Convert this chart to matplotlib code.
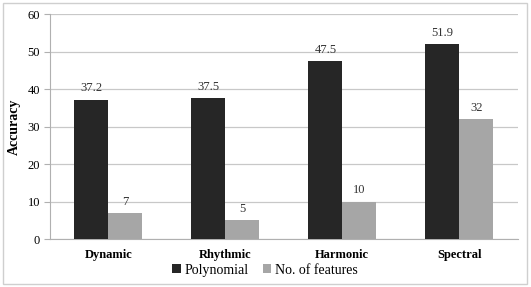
import matplotlib
matplotlib.use("Agg")
import matplotlib.pyplot as plt
import numpy as np
from matplotlib.patches import Rectangle

categories = ["Dynamic", "Rhythmic", "Harmonic", "Spectral"]
polynomial = [37.2, 37.5, 47.5, 51.9]
n_features = [7, 5, 10, 32]
labels_poly = ["37.2", "37.5", "47.5", "51.9"]
labels_feat = ["7", "5", "10", "32"]

plt.rcParams["font.family"] = ["Liberation Serif", "DejaVu Serif"]

fig = plt.figure(figsize=(5.31, 2.87), dpi=100)
ax = fig.add_axes([0.094, 0.167, 0.881, 0.784])

x = np.arange(len(categories))
w = 0.29
dark = "#262626"
light = "#a6a6a6"
b1 = ax.bar(x - w / 2, polynomial, w, color=dark, label="Polynomial", zorder=3)
b2 = ax.bar(x + w / 2, n_features, w, color=light, label="No. of features", zorder=3)

for rect, lab in zip(b1, labels_poly):
    ax.text(rect.get_x() + rect.get_width() / 2, rect.get_height() + 1.4, lab,
            ha="center", va="bottom", fontsize=9, color="#333333")
for rect, lab in zip(b2, labels_feat):
    ax.text(rect.get_x() + rect.get_width() / 2, rect.get_height() + 1.4, lab,
            ha="center", va="bottom", fontsize=9, color="#333333")

ax.set_xlim(-0.5, len(categories) - 0.5)
ax.set_ylim(0, 60)
ax.set_yticks(range(0, 61, 10))
ax.yaxis.grid(True, color="#c8c8c8", lw=0.9, zorder=0)
ax.set_axisbelow(True)
for s in ["top", "right"]:
    ax.spines[s].set_visible(False)
ax.spines["left"].set_color("#b0b0b0")
ax.spines["bottom"].set_color("#b0b0b0")
ax.tick_params(axis="y", length=4, color="#b0b0b0", labelsize=9, pad=3)
ax.tick_params(axis="x", length=0, labelsize=9, pad=7)
ax.set_xticks(x)
ax.set_xticklabels(categories, fontweight="bold")
ax.set_ylabel("Accuracy", fontsize=10, fontweight="bold", labelpad=5)

ax.legend(loc="center", bbox_to_anchor=(0.46, -0.138), ncol=2, frameon=False,
          fontsize=10, handlelength=0.6, handleheight=0.6, handletextpad=0.3,
          columnspacing=1.0)

fig.patches.append(Rectangle((0.006, 0.01), 0.986, 0.98, transform=fig.transFigure,
                             fill=False, edgecolor="#cfcfcf", lw=1.0))

fig.savefig("out.png", dpi=100, facecolor="white")
